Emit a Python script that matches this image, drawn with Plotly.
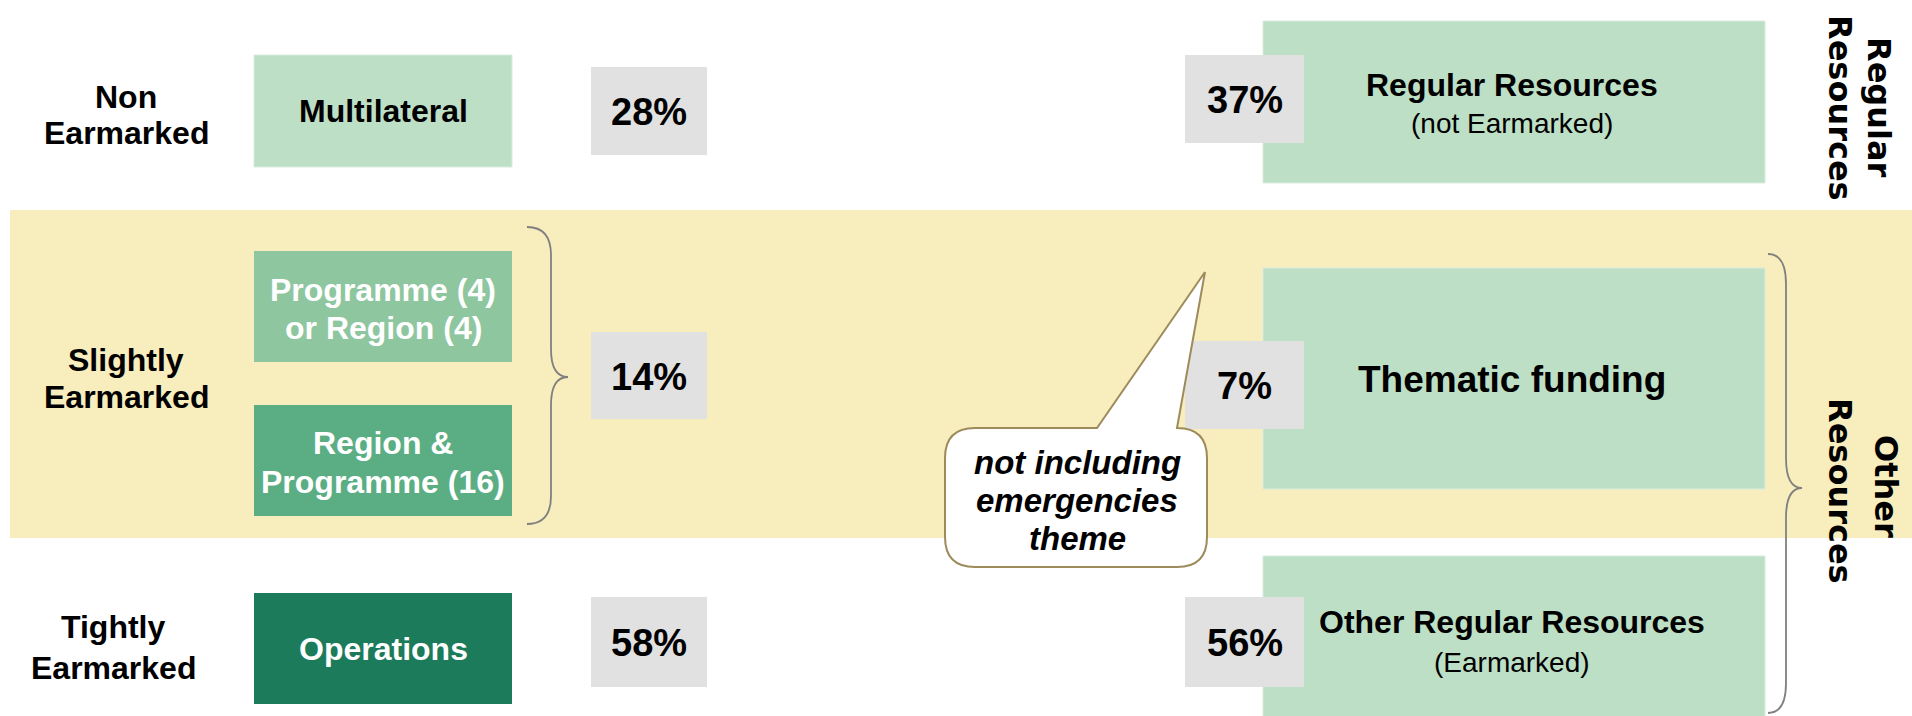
import plotly.graph_objects as go

# ---------------- data ----------------
row_labels = [["Non", "Earmarked"], ["Slightly", "Earmarked"], ["Tightly", "Earmarked"]]
row_shares = [28, 14, 58]
modality_labels = [["Multilateral"], ["Programme (4)", "or Region (4)"],
                   ["Region &", "Programme (16)"], ["Operations"]]
resource_titles = ["Regular Resources", "Thematic funding", "Other Regular Resources"]
resource_subtitles = ["(not Earmarked)", "", "(Earmarked)"]
resource_shares = [37, 7, 56]
side_labels = [["Regular", "Resources"], ["Other", "Resources"]]
note_lines = ["not including", "emergencies", "theme"]

# ---------------- layout geometry (pixels) ----------------
W, H = 1912, 716
FONT = "Liberation Sans, Arial, Helvetica, sans-serif"
VFONT = "DejaVu Sans, Verdana, sans-serif"
LIGHT = "#BDDFC5"
GREY = "#E1E1E1"
YELLOW = "#F8EDBD"
BRACE = "#808080"
modality_colors = [LIGHT, "#8EC6A0", "#5BAE84", "#1B7B5A"]
modality_text = ["black", "white", "white", "white"]
modality_y = [(55, 167), (251, 362), (405, 516), (593, 704)]
modality_line_y = [[111], [290, 328], [443, 482], [649]]
row_text_x = [126, 126, 113]
row_line_y = [[97, 133], [360, 397], [627, 668]]
row_pct_y = [(67, 155), (332, 419), (597, 687)]
res_box_y = [(21, 183), (268, 489), (556, 740)]
res_pct_y = [(55, 143), (341, 429), (597, 687)]
res_title_y = [(85, 123), (379, None), (622, 662)]
side_pos = [[(1879, 107), (1840, 108)], [(1886, 486), (1840, 491)]]

shapes = []
ann = []

def rect(x0, x1, y0, y1, color, line=None):
    shapes.append(dict(type="rect", xref="x", yref="y", x0=x0, x1=x1, y0=y0, y1=y1,
                       fillcolor=color, line=dict(width=1 if line else 0, color=line or color),
                       layer="above"))

def text(x, y, s, size, color="black", bold=True, italic=False, angle=0, family=FONT):
    ann.append(dict(x=x, y=y, xref="x", yref="y", text=s, showarrow=False,
                    xanchor="center", yanchor="middle", textangle=angle,
                    font=dict(family=family, size=size, color=color,
                              weight="bold" if bold else "normal",
                              style="italic" if italic else "normal")))

# yellow band
shapes.append(dict(type="rect", xref="x", yref="y", x0=10, x1=W, y0=210, y1=538,
                   fillcolor=YELLOW, line=dict(width=0), layer="below"))

# left column labels
for lines, x, ys in zip(row_labels, row_text_x, row_line_y):
    for s, y in zip(lines, ys):
        text(x, y, s, 32)

# modality boxes
for lines, col, tc, (y0, y1), ys in zip(modality_labels, modality_colors, modality_text,
                                        modality_y, modality_line_y):
    rect(254, 512, y0, y1, col, line="#D8ECDC" if col == LIGHT else None)
    for s, y in zip(lines, ys):
        text(383, y, s, 32, color=tc)

# percentage boxes (left)
for v, (y0, y1) in zip(row_shares, row_pct_y):
    rect(591, 707, y0, y1, GREY)
    text(649, (y0 + y1) / 2 + 1, f"{v}%", 38)

# braces
def brace(x0, xm, x1, y0, ym, y1, r):
    p = (f"M {x0},{y0} Q {xm},{y0} {xm},{y0 + r} L {xm},{ym - r} "
         f"Q {xm},{ym} {x1},{ym} Q {xm},{ym} {xm},{ym + r} "
         f"L {xm},{y1 - r} Q {xm},{y1} {x0},{y1}")
    shapes.append(dict(type="path", xref="x", yref="y", path=p,
                       line=dict(color=BRACE, width=1.8), layer="above"))

brace(527, 551, 568, 227, 377, 524, 28)

# resource boxes (right)
for i in range(3):
    y0, y1 = res_box_y[i]
    rect(1263, 1765, y0, y1, LIGHT, line="#D8ECDC")
    py0, py1 = res_pct_y[i]
    rect(1185, 1304, py0, py1, GREY)
    text(1244.5, (py0 + py1) / 2 + 1, f"{resource_shares[i]}%", 38)
    ty, sy = res_title_y[i]
    if resource_subtitles[i]:
        text(1512, ty, resource_titles[i], 32)
        text(1512, sy, resource_subtitles[i], 28, bold=False)
    else:
        text(1512, ty, resource_titles[i], 37)

brace(1768, 1786, 1802, 254, 488, 713, 30)

# vertical side labels
for lines, pos in zip(side_labels, side_pos):
    for s, (x, y) in zip(lines, pos):
        text(x, y, s, 32, angle=90, family=VFONT)

# callout
cx0, cx1, cy0, cy1, r = 945, 1207, 428, 567, 30
bx0, bx1, tipx, tipy = 1097, 1177, 1205, 272
path = (f"M {cx0 + r},{cy0} L {bx0},{cy0} L {tipx},{tipy} L {bx1},{cy0} L {cx1 - r},{cy0} "
        f"Q {cx1},{cy0} {cx1},{cy0 + r} L {cx1},{cy1 - r} Q {cx1},{cy1} {cx1 - r},{cy1} "
        f"L {cx0 + r},{cy1} Q {cx0},{cy1} {cx0},{cy1 - r} L {cx0},{cy0 + r} Q {cx0},{cy0} {cx0 + r},{cy0} Z")
shapes.append(dict(type="path", xref="x", yref="y", path=path, fillcolor="white",
                   line=dict(color="#9E8B5B", width=2), layer="above"))
for s, y in zip(note_lines, [462, 500, 538]):
    text(1077, y, s, 33, italic=True)

fig = go.Figure()
fig.update_layout(
    width=W, height=H, margin=dict(l=0, r=0, t=0, b=0),
    paper_bgcolor="white", plot_bgcolor="white",
    xaxis=dict(range=[0, W], visible=False, fixedrange=True),
    yaxis=dict(range=[H, 0], visible=False, fixedrange=True),
    shapes=shapes, annotations=ann, showlegend=False,
)
fig.write_html("out.html", config={"displayModeBar": False},
               post_script="document.body.style.margin='0';document.body.style.overflow='hidden';")
